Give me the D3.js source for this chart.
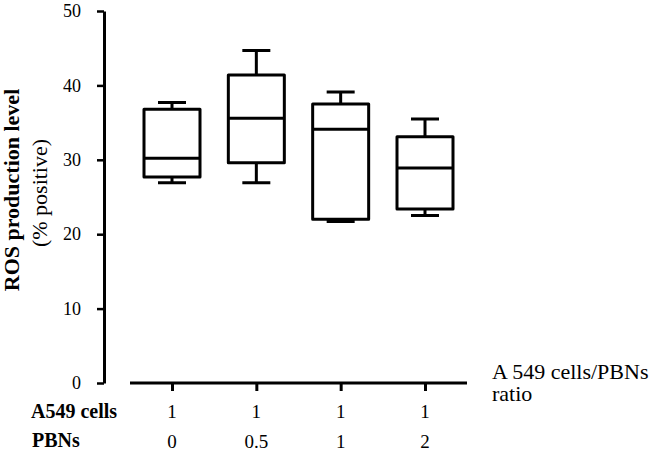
<!DOCTYPE html>
<html>
<head>
<meta charset="utf-8">
<script src="https://cdn.jsdelivr.net/npm/d3@7"></script>
<style>
    body { margin: 0; background: #fff; }
</style>
</head>
<body>
<div id="chart"></div>
<script>
// data
const groups = ["g1", "g2", "g3", "g4"];
const a549Cells = ["1", "1", "1", "1"];
const pbns = ["0", "0.5", "1", "2"];
const whiskerLow = [26.9, 26.9, 21.7, 22.5];
const q1 = [27.7, 29.6, 22.0, 23.4];
const median = [30.2, 35.6, 34.1, 28.9];
const q3 = [36.8, 41.4, 37.5, 33.1];
const whiskerHigh = [37.7, 44.7, 39.1, 35.5];
const yTicks = [0, 10, 20, 30, 40, 50];
const xTitle = ["A 549 cells/PBNs", "ratio"];

const boxes = groups.map((g, i) => ({
    g: g, lo: whiskerLow[i], q1: q1[i], med: median[i], q3: q3[i], hi: whiskerHigh[i]
}));

const svgWidth = 653,
    svgHeight = 454,
    boxW = 56,
    capW = 28,
    serif = "Liberation Serif";

let svg = d3.select("#chart").append("svg")
    .attr("width", svgWidth)
    .attr("height", svgHeight)
    .attr("font-family", serif);

let y = d3.scaleLinear()
    .domain([0, 50])
    .range([383, 11]);
let x = d3.scalePoint()
    .domain(groups)
    .range([172, 425]);

// y axis
let yAxis = svg.append("g")
    .attr("transform", "translate(104,0)")
    .call(d3.axisLeft(y).tickValues(yTicks).tickSize(7).tickSizeOuter(0).tickPadding(16));
yAxis.attr("font-family", serif).attr("font-size", 18);
yAxis.select(".domain").attr("stroke-width", 3).attr("stroke", "#000");
yAxis.selectAll(".tick line").attr("stroke-width", 2.5).attr("stroke", "#000");
yAxis.selectAll(".tick text")
    .attr("fill", "#000")
    .attr("font-family", serif)
    .attr("font-size", 18);

// x axis: own baseline, ticks from the scale
svg.append("line")
    .attr("x1", x(groups[0]) - 42)
    .attr("x2", x(groups[groups.length - 1]) + 42)
    .attr("y1", y(0))
    .attr("y2", y(0))
    .attr("stroke", "#000")
    .attr("stroke-width", 3);
let xAxis = svg.append("g")
    .attr("transform", `translate(0,${y(0)})`)
    .call(d3.axisBottom(x).tickSize(8).tickFormat(""));
xAxis.select(".domain").remove();
xAxis.selectAll(".tick line").attr("stroke-width", 3).attr("stroke", "#000");

// boxes
let bx = svg.append("g")
    .attr("fill", "none")
    .attr("stroke", "#000")
    .attr("stroke-width", 3);

bx.selectAll("path.whisker")
    .data(boxes)
    .join("path")
    .attr("d", d => `M${x(d.g)},${y(d.hi)}V${y(d.q3)}M${x(d.g)},${y(d.q1)}V${y(d.lo)}`);

bx.selectAll("path.cap")
    .data(boxes)
    .join("path")
    .attr("d", d => `M${x(d.g) - capW / 2},${y(d.hi)}h${capW}M${x(d.g) - capW / 2},${y(d.lo)}h${capW}`);

bx.selectAll("rect")
    .data(boxes)
    .join("rect")
    .attr("x", d => x(d.g) - boxW / 2)
    .attr("y", d => y(d.q3))
    .attr("width", boxW)
    .attr("height", d => y(d.q1) - y(d.q3))
    .attr("fill", "#fff")
    .attr("stroke-linejoin", "round");

bx.selectAll("line.median")
    .data(boxes)
    .join("line")
    .attr("x1", d => x(d.g) - boxW / 2)
    .attr("x2", d => x(d.g) + boxW / 2)
    .attr("y1", d => y(d.med))
    .attr("y2", d => y(d.med));

function addText(t, px, py, size, bold, anchor, rot) {
    let el = svg.append("text")
        .attr("x", px)
        .attr("y", py)
        .attr("text-anchor", anchor || "start")
        .attr("fill", "#000")
        .attr("font-family", serif)
        .attr("font-size", size)
        .attr("font-weight", bold ? "bold" : "normal")
        .text(t);
    if (rot) el.attr("transform", "rotate(-90)");
    return el;
}

// y axis titles
addText("ROS production level", -190, 19, 22, true, "middle", true);
addText("(% positive)", -193, 47, 22, false, "middle", true);

// x axis title, two lines in one text
let xt = addText("", 492, 379, 22, false);
xt.selectAll("tspan")
    .data(xTitle)
    .join("tspan")
    .attr("x", 492)
    .attr("dy", (d, i) => i === 0 ? 0 : 22)
    .text(d => d);

// row labels under the axis
addText("A549 cells", 31, 418, 20, true);
addText("PBNs", 32, 447, 20, true);

a549Cells.forEach((v, i) => addText(v, x(groups[i]), 418, 19, false, "middle"));
pbns.forEach((v, i) => addText(v, x(groups[i]), 448, 19, false, "middle"));
</script>
</body>
</html>
